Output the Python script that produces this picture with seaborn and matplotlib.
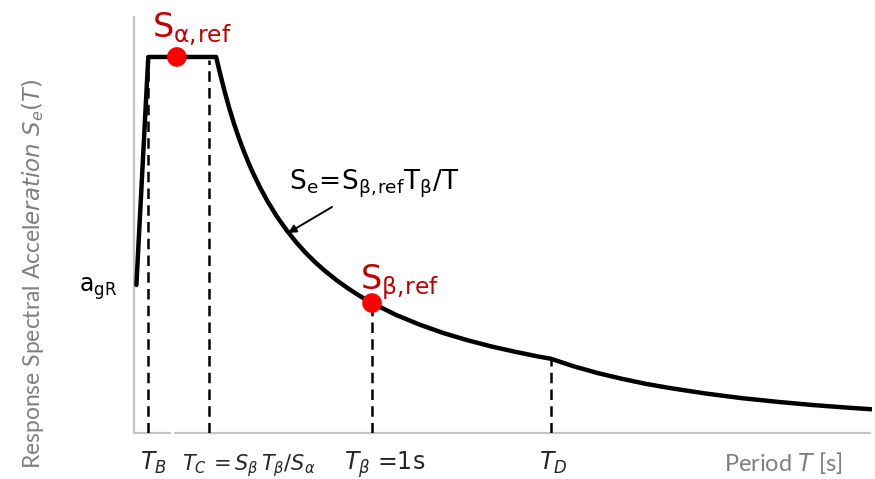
import matplotlib
matplotlib.use("Agg")
import matplotlib.pyplot as plt
import seaborn as sns
import pandas as pd

sns.set_theme(style="white")
plt.rcParams["font.family"] = ["DejaVu Sans"]
plt.rcParams["mathtext.fontset"] = "dejavusans"

# spectrum (period in s, Se in units of agR)
period = [0.01, 0.06, 0.18, 0.345, 0.36, 0.38, 0.40, 0.42, 0.44, 0.46,
          0.48, 0.50, 0.53, 0.56, 0.60, 0.64, 0.68, 0.72, 0.76, 0.80,
          0.85, 0.90, 0.95, 1.00, 1.10, 1.20, 1.30, 1.40, 1.50, 1.60,
          1.70, 1.75, 1.85, 1.95, 2.05, 2.15, 2.25, 2.40, 2.55, 2.70,
          2.85, 3.00, 3.10]
accel = [1.0, 2.54, 2.54, 2.54, 2.439, 2.311, 2.195, 2.090, 1.995, 1.909,
         1.829, 1.756, 1.657, 1.568, 1.463, 1.372, 1.291, 1.219, 1.155, 1.098,
         1.033, 0.976, 0.924, 0.878, 0.798, 0.732, 0.675, 0.627, 0.585, 0.549,
         0.516, 0.502, 0.449, 0.404, 0.366, 0.332, 0.304, 0.267, 0.236, 0.211,
         0.189, 0.171, 0.160]

# corner periods and curve height at each dashed marker
mark_T = [0.06, 0.315, 1.0, 1.75]
mark_top = [2.54, 2.52, 0.878, 0.502]

# reference points (red dots)
ref_T = [0.18, 1.0]
ref_S = [2.54, 0.878]

W, H = 875, 479
fig = plt.figure(figsize=(W / 100, H / 100), dpi=100)
ax = fig.add_axes([134 / W, (H - 433) / H, (872 - 134) / W, (433 - 17) / H])

df = pd.DataFrame({"T": period, "Se": accel})
sns.lineplot(data=df, x="T", y="Se", sort=False, estimator=None, ax=ax,
             color="black", lw=3.2, solid_capstyle="round",
             solid_joinstyle="round", zorder=3)

for t, top in zip(mark_T, mark_top):
    ax.plot([t, t], [0, top], color="black", lw=1.8, dashes=(4.2, 2.5), zorder=2)

sns.scatterplot(x=ref_T, y=ref_S, ax=ax, color="#ff0000", s=200,
                edgecolor="none", zorder=4)

ax.set_xlim(0, 3.1)
ax.set_ylim(0, 2.81)
ax.set_xticks([])
ax.set_yticks([])
ax.set_xlabel("")
ax.set_ylabel("")
for s in ["top", "right", "bottom"]:
    ax.spines[s].set_visible(False)
ax.spines["left"].set_color("#c4c4c4")
ax.spines["left"].set_linewidth(1.6)
# bottom axis with a small break after T_B
ax.plot([0, 0.151], [0, 0], color="#c4c4c4", lw=1.6, clip_on=False, zorder=1)
ax.plot([0.172, 3.09], [0, 0], color="#c4c4c4", lw=1.6, clip_on=False, zorder=1)


def fx(px):
    return px / W


def fy(py):
    return 1 - py / H


red = "#c00000"
fig.text(fx(152), fy(37), r"$\mathrm{S}_{\mathrm{\alpha,\!ref}}$", color=red,
         fontsize=24, ha="left", va="baseline")
fig.text(fx(360), fy(289), r"$\mathrm{S}_{\mathrm{β,\!ref}}$", color=red,
         fontsize=24, ha="left", va="baseline")
fig.text(fx(79), fy(292), r"$\mathrm{a}_{\mathrm{gR}}$", color="black",
         fontsize=17, ha="left", va="baseline")
fig.text(fx(289), fy(190),
         r"$\mathrm{S}_{\mathrm{e}}\!=\!\mathrm{S}_{\mathrm{β,\!ref}}\mathrm{T}_{\mathrm{β}}\mathrm{/T}$",
         color="black", fontsize=19, ha="left", va="baseline")
ax.annotate("", xy=(fx(288), fy(233)), xytext=(fx(332), fy(207)),
            xycoords="figure fraction", textcoords="figure fraction",
            arrowprops=dict(arrowstyle="-|>", color="black", lw=1.4,
                            mutation_scale=12, shrinkA=0, shrinkB=0))

# period labels under the axis
base = fy(470)
fig.text(fx(140), base, r"$T_B$", fontsize=17, ha="left", va="baseline")
fig.text(fx(182), base, r"$T_C\,{=}S_\beta\, T_\beta/S_\alpha$", fontsize=15,
         ha="left", va="baseline")
fig.text(fx(344), base, r"$T_\beta$ =1s", fontsize=17, ha="left", va="baseline")
fig.text(fx(539), base, r"$T_D$", fontsize=17, ha="left", va="baseline")

gray = "#7f7f7f"
fig.text(fx(783), fy(463), r"Period $\mathit{T}$ [s]", color=gray, fontsize=17,
         ha="center", va="center", family=["Lato", "DejaVu Sans"])
fig.text(fx(33), fy(274), r"Response Spectral Accel$\mathit{eration}\ \mathit{S_e(T)}$",
         color=gray, fontsize=16.5, rotation=90, ha="center", va="center",
         family=["Lato", "DejaVu Sans"])

fig.savefig("out.png", dpi=100)
